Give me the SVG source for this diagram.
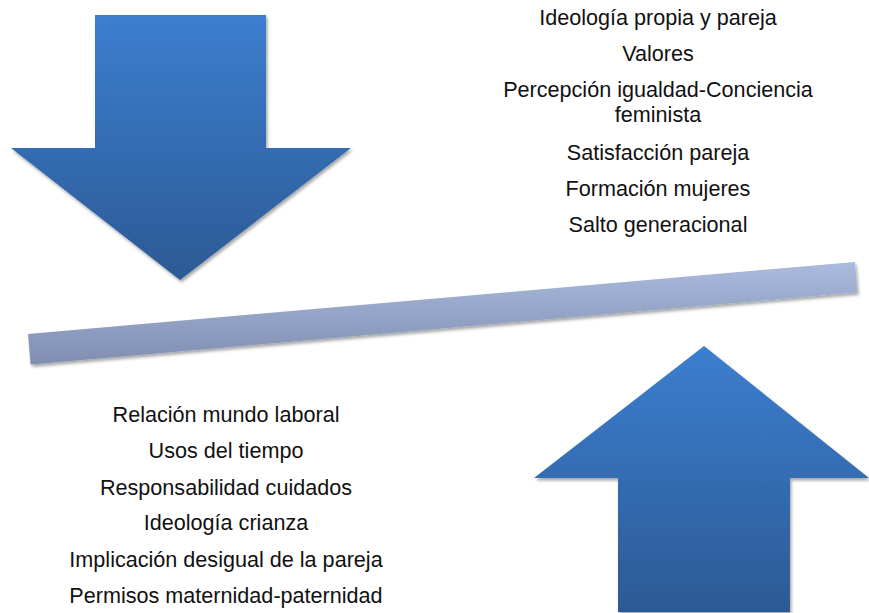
<svg xmlns="http://www.w3.org/2000/svg" width="869" height="613" viewBox="0 0 869 613">
<style>
.t{font-family:"Liberation Sans",Arial,sans-serif;font-size:21.6px;fill:#111;text-anchor:middle}
</style>
<defs>
<linearGradient id="gDown" gradientUnits="userSpaceOnUse" x1="0" y1="15" x2="0" y2="280">
<stop offset="0" stop-color="#3c7ecf"/><stop offset="1" stop-color="#2c5a95"/>
</linearGradient>
<linearGradient id="gUp" gradientUnits="userSpaceOnUse" x1="0" y1="346" x2="0" y2="612">
<stop offset="0" stop-color="#3c7ecf"/><stop offset="1" stop-color="#2c5a95"/>
</linearGradient>
<linearGradient id="gBar" gradientUnits="userSpaceOnUse" x1="0" y1="260" x2="0" y2="366">
<stop offset="0" stop-color="#abbcdf"/><stop offset="1" stop-color="#7e8db0"/>
</linearGradient>
<filter id="sh" x="-10%" y="-10%" width="120%" height="130%">
<feDropShadow dx="1.5" dy="2.5" stdDeviation="1.8" flood-color="#000" flood-opacity="0.35"/>
</filter>
</defs>
<g id="down-arrow">
<polygon points="95,15 266,15 266,148 351,148 180,280 11,148 95,148" fill="url(#gDown)" filter="url(#sh)"/>
</g>
<g id="beam">
<polygon points="28,334 854.9,261.9 857.5,292.3 30.6,364.4" fill="url(#gBar)" filter="url(#sh)"/>
</g>
<g id="up-arrow">
<polygon points="704,346 869,478 790,478 790,612 618,612 618,478 534,478" fill="url(#gUp)" filter="url(#sh)"/>
</g>
<g id="top-factors">
<text class="t" x="658" y="25">Ideología propia y pareja</text>
<text class="t" x="658" y="61">Valores</text>
<text class="t" x="658" y="97">Percepción igualdad-Conciencia</text>
<text class="t" x="658" y="122">feminista</text>
<text class="t" x="658" y="160">Satisfacción pareja</text>
<text class="t" x="658" y="196">Formación mujeres</text>
<text class="t" x="658" y="232">Salto generacional</text>
</g>
<g id="bottom-factors">
<text class="t" x="226" y="422">Relación mundo laboral</text>
<text class="t" x="226" y="458">Usos del tiempo</text>
<text class="t" x="226" y="495">Responsabilidad cuidados</text>
<text class="t" x="226" y="530">Ideología crianza</text>
<text class="t" x="226" y="567">Implicación desigual de la pareja</text>
<text class="t" x="226" y="603">Permisos maternidad-paternidad</text>
</g>
</svg>
